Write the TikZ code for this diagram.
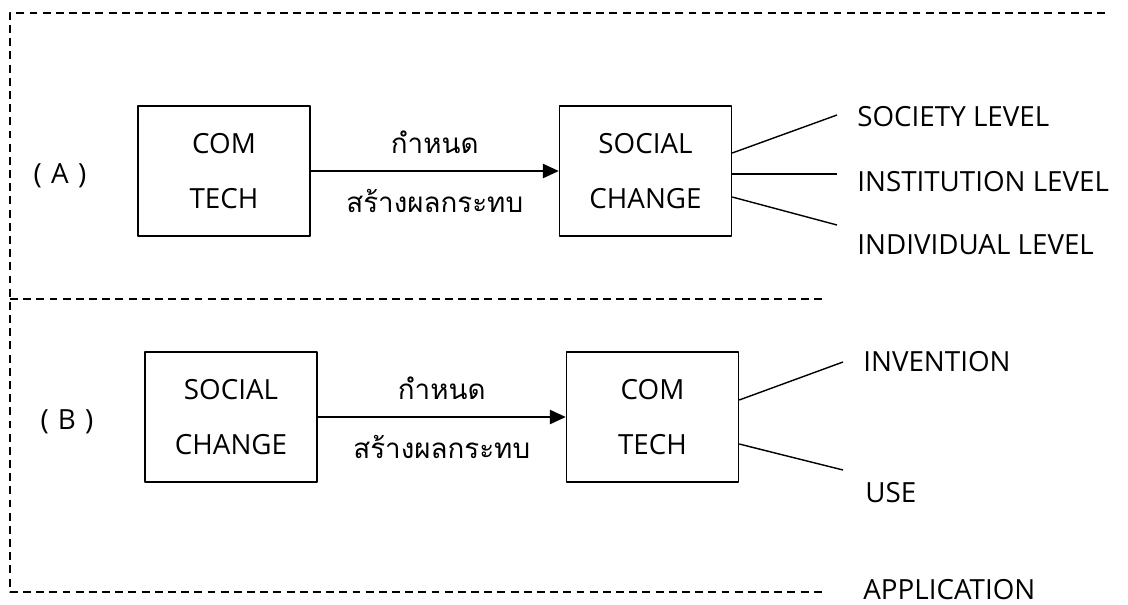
\documentclass[tikz,border=0pt]{standalone}
\usepackage{fontspec}
\setmainfont{Open Sans}
\newfontfamily\thaifont[Script=Thai]{Loma}
\usetikzlibrary{arrows.meta,positioning}

\begin{document}
\begin{tikzpicture}[>={Triangle[length=9pt,width=8pt]},line join=round,
    font=\fontsize{15.8}{31}\selectfont,
    box/.style={draw,line width=0.8pt,minimum width=3.44cm,minimum height=2.6cm,align=center},
    lbl/.style={anchor=west,inner sep=0pt},
    thai/.style={font=\thaifont\fontsize{15.8}{18}\selectfont},
    frame/.style={line width=0.65pt,dash pattern=on 4.5pt off 3pt}]
	\useasboundingbox (0,0) rectangle (22.56,-12.08);
	% dashed frame
	\draw[frame] (22.1,-0.26)--(0.2,-0.26)--(0.2,-11.84)--(16.5,-11.84);
	\draw[frame] (0.2,-5.98)--(16.5,-5.98);
	% (A) com tech -> social change
	\node (A) at (1.2,-3.52) {(\,\,A\,\,)};
	\node[box] (comA) at (4.48,-3.42) {COM\\TECH};
	\node[box] (socA) at (12.91,-3.42) {SOCIAL\\CHANGE};
	\draw[->,line width=1.1pt] (comA.east)--(socA.west)
		node[midway,above=0.22cm,thai] (detA) {กำหนด}
		node[midway,below=0.22cm,thai] (effA) {สร้างผลกระทบ};
	\coordinate (s1) at (16.74,-2.3);
	\coordinate (s2) at (16.74,-3.48);
	\coordinate (s3) at (16.74,-4.5);
	\draw[line width=0.8pt] ([yshift=0.36cm]socA.east)--(s1);
	\draw[line width=0.8pt] ([yshift=-0.06cm]socA.east)--(s2);
	\draw[line width=0.8pt] ([yshift=-0.52cm]socA.east)--(s3);
	\node[lbl] (society) at (17.14,-2.34) {SOCIETY LEVEL};
	\node[lbl] (institution) at (17.14,-3.64) {INSTITUTION LEVEL};
	\node[lbl] (individual) at (17.14,-4.9) {INDIVIDUAL LEVEL};
	% (B) social change -> com tech
	\node (B) at (1.34,-8.44) {(\,\,B\,\,)};
	\node[box] (socB) at (4.62,-8.34) {SOCIAL\\CHANGE};
	\node[box] (comB) at (13.05,-8.34) {COM\\TECH};
	\draw[->,line width=1.1pt] (socB.east)--(comB.west)
		node[midway,above=0.22cm,thai] (detB) {กำหนด}
		node[midway,below=0.22cm,thai] (effB) {สร้างผลกระทบ};
	\coordinate (u1) at (16.86,-7.24);
	\coordinate (u2) at (16.86,-9.4);
	\draw[line width=0.8pt] ([yshift=0.34cm]comB.east)--(u1);
	\draw[line width=0.8pt] ([yshift=-0.54cm]comB.east)--(u2);
	\node[lbl] (invention) at (17.26,-7.24) {INVENTION};
	\node[lbl] (use) at (17.3,-9.86) {USE};
	\node[lbl] (application) at (17.26,-11.8) {APPLICATION};
\end{tikzpicture}
\end{document}
